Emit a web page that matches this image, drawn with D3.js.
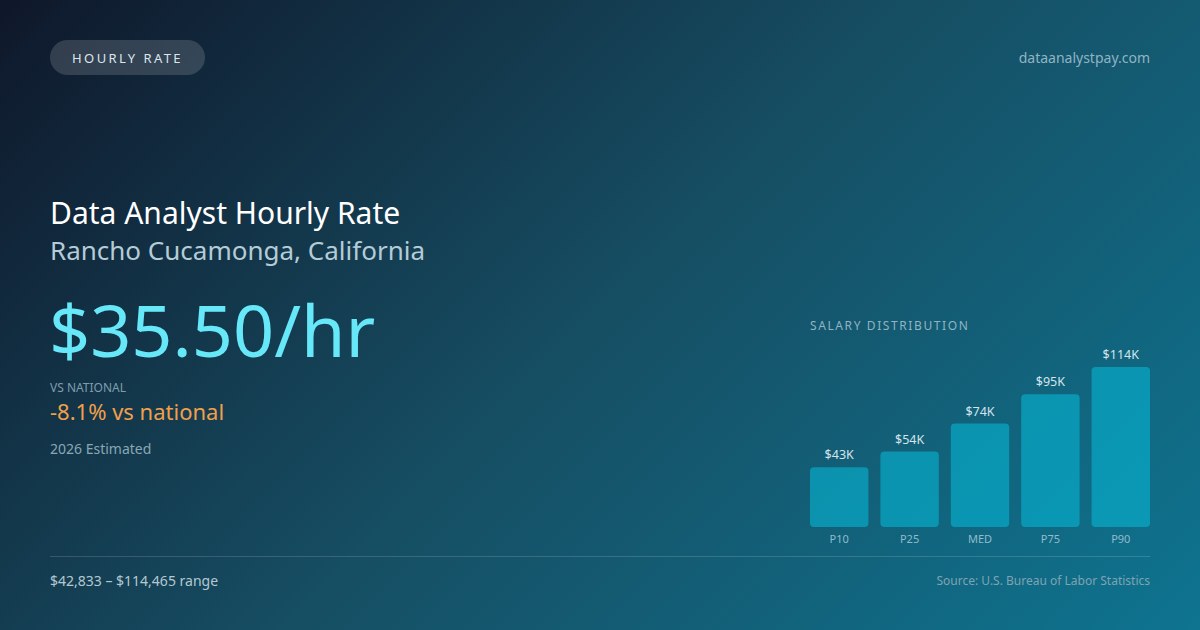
<!DOCTYPE html>
<html>
<head>
<meta charset="utf-8">
<script src="https://cdn.jsdelivr.net/npm/d3@7/dist/d3.min.js"></script>
<style>
  html, body { margin: 0; padding: 0; background: #0f172a; }
  svg { display: block; font-family: "Noto Sans", "Open Sans", sans-serif; }
</style>
</head>
<body>
<svg id="card" width="1200" height="630"></svg>
<script>
// chart data
var percentiles = ['P10', 'P25', 'MED', 'P75', 'P90'];
var salaries = [42833, 54000, 74000, 95000, 114465];
var salaryLabels = ['$43K', '$54K', '$74K', '$95K', '$114K'];

var badgeText = 'HOURLY RATE';
var siteText = 'dataanalystpay.com';
var titleText = 'Data Analyst Hourly Rate';
var locationText = 'Rancho Cucamonga, California';
var rateText = '$35.50/hr';
var compareLabel = 'VS NATIONAL';
var compareText = '-8.1% vs national';
var yearText = '2026 Estimated';
var rangeText = '$42,833 – $114,465 range';
var sourceText = 'Source: U.S. Bureau of Labor Statistics';

(function (d3) {
  'use strict';
  var W = 1200, H = 630;
  var svg = d3.select('#card');
  var defs = svg.append('defs');

  // background, 135deg style diagonal
  var bg = defs.append('linearGradient').attr('id', 'bg')
    .attr('gradientUnits', 'userSpaceOnUse')
    .attr('x1', 0).attr('y1', 0)
    .attr('x2', (W + H) / 2).attr('y2', (W + H) / 2);
  bg.append('stop').attr('offset', '0%').attr('stop-color', '#0f172a');
  bg.append('stop').attr('offset', '50%').attr('stop-color', '#164e63');
  bg.append('stop').attr('offset', '100%').attr('stop-color', '#0e7490');
  svg.append('rect').attr('width', W).attr('height', H).attr('fill', 'url(#bg)');

  /** header */
  var badge = svg.append('g');
  badge.append('rect')
    .attr('x', 50).attr('y', 40).attr('width', 155).attr('height', 35)
    .attr('rx', 17.5).attr('fill', '#ffffff').attr('fill-opacity', 0.15);
  badge.append('text')
    .attr('x', 127.5).attr('y', 62.5).attr('text-anchor', 'middle')
    .attr('font-size', 13).attr('letter-spacing', 2.4).attr('fill', '#dbe6ec')
    .text(badgeText);

  svg.append('text')
    .attr('x', 1150).attr('y', 63).attr('text-anchor', 'end')
    .attr('font-size', 14).attr('fill', '#8fb4c4')
    .text(siteText);

  /** left column */
  svg.append('text').attr('x', 50).attr('y', 224)
    .attr('font-size', 30).attr('fill', '#ffffff').text(titleText);
  svg.append('text').attr('x', 50).attr('y', 260)
    .attr('font-size', 26).attr('fill', '#b4ccd8').text(locationText);
  svg.append('text').attr('x', 49).attr('y', 357)
    .attr('font-size', 72).attr('fill', '#67e8f9').text(rateText);
  svg.append('text').attr('x', 50).attr('y', 392)
    .attr('font-size', 12).attr('fill', '#7f9eac').text(compareLabel);
  svg.append('text').attr('x', 50).attr('y', 420)
    .attr('font-size', 22).attr('fill', '#f0a04b').text(compareText);
  svg.append('text').attr('x', 50).attr('y', 454)
    .attr('font-size', 14).attr('fill', '#8aa7b4').text(yearText);

  /** salary distribution bars */
  var x = d3.scaleBand().domain(percentiles).range([810, 1150])
    .paddingInner(0.17).paddingOuter(0);
  var y = d3.scaleLinear().domain([0, d3.max(salaries)]).range([527, 367]);

  svg.append('text').attr('x', 810).attr('y', 330)
    .attr('font-size', 12).attr('letter-spacing', 1.6).attr('fill', '#8fb4c4')
    .text('SALARY DISTRIBUTION');

  var bars = svg.append('g').selectAll('g').data(percentiles).enter().append('g');
  bars.append('rect')
    .attr('x', function (d) { return x(d); })
    .attr('y', function (d, i) { return y(salaries[i]); })
    .attr('width', x.bandwidth())
    .attr('height', function (d, i) { return y(0) - y(salaries[i]); })
    .attr('rx', 4)
    .attr('fill', '#06b6d4').attr('fill-opacity', 0.6);
  bars.append('text')
    .attr('x', function (d) { return x(d) + x.bandwidth() / 2; })
    .attr('y', function (d, i) { return y(salaries[i]) - 8; })
    .attr('text-anchor', 'middle').attr('font-size', 12.5).attr('fill', '#d4e4ec')
    .text(function (d, i) { return salaryLabels[i]; });
  bars.append('text')
    .attr('x', function (d) { return x(d) + x.bandwidth() / 2; })
    .attr('y', y(0) + 16)
    .attr('text-anchor', 'middle').attr('font-size', 11).attr('fill', '#8fbccc')
    .text(function (d) { return d; });

  /** footer */
  svg.append('line')
    .attr('x1', 50).attr('x2', 1150).attr('y1', 556.5).attr('y2', 556.5)
    .attr('stroke', '#ffffff').attr('stroke-opacity', 0.15);
  svg.append('text').attr('x', 50).attr('y', 586)
    .attr('font-size', 14).attr('fill', '#b4c8d2').text(rangeText);
  svg.append('text').attr('x', 1150).attr('y', 585).attr('text-anchor', 'end')
    .attr('font-size', 12).attr('fill', '#7fa3b3').text(sourceText);
})(d3);
</script>
</body>
</html>
